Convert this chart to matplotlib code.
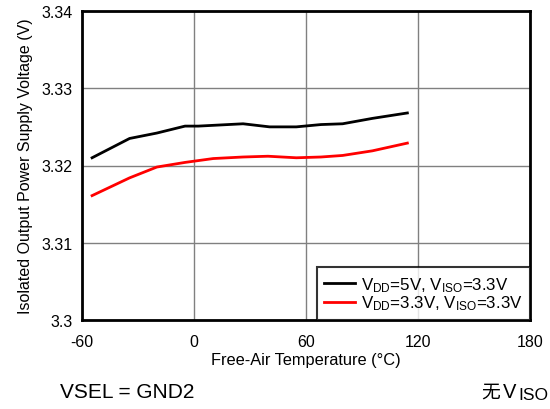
import matplotlib
matplotlib.use("Agg")
import matplotlib.pyplot as plt

plt.rcParams['font.family'] = ['Liberation Sans', 'DejaVu Sans']
plt.rcParams['mathtext.fontset'] = 'custom'
plt.rcParams['mathtext.rm'] = 'Liberation Sans'

# Data
temp_5v = [-54.6, -34.5, -19.9, -4.8, 2.3, 26.3, 40.5, 54.8, 68.0, 79.6, 95.6, 114.3]
volt_5v = [3.3210, 3.3235, 3.3242, 3.3251, 3.3251, 3.3254, 3.3250, 3.3250, 3.3253, 3.3254, 3.3261, 3.3268]
temp_33v = [-54.6, -34.5, -19.9, -4.8, 10.3, 26.3, 39.6, 54.8, 68.0, 79.6, 95.6, 114.3]
volt_33v = [3.3161, 3.3184, 3.3198, 3.3204, 3.3209, 3.3211, 3.3212, 3.3210, 3.3211, 3.3213, 3.3219, 3.3229]

xticks = [-60, 0, 60, 120, 180]
yticks = [3.30, 3.31, 3.32, 3.33, 3.34]
ytick_labels = ['3.3', '3.31', '3.32', '3.33', '3.34']
label_5v = r'$\mathregular{V_{DD}}$=5V, $\mathregular{V_{ISO}}$=3.3V'
label_33v = r'$\mathregular{V_{DD}}$=3.3V, $\mathregular{V_{ISO}}$=3.3V'

fig = plt.figure(figsize=(5.5, 4.1), dpi=100)
ax = fig.add_axes([82/550, 1-321/410, (530-82)/550, (321-12)/410])

ax.plot(temp_5v, volt_5v, color='black', lw=2, label=label_5v)
ax.plot(temp_33v, volt_33v, color='red', lw=2, label=label_33v)

ax.set_xlim(-60, 180)
ax.set_ylim(3.30, 3.34)
ax.set_xticks(xticks)
ax.set_xticklabels([str(t) for t in xticks])
ax.set_yticks(yticks)
ax.set_yticklabels(ytick_labels)
ax.tick_params(length=0, labelsize=11.5)
ax.tick_params(axis='x', pad=10)
ax.tick_params(axis='y', pad=7)
ax.grid(True, color='#808080', lw=1)
ax.set_axisbelow(True)
for s in ax.spines.values():
    s.set_linewidth(2)
    s.set_color('black')

ax.set_xlabel('Free-Air Temperature (°C)', fontsize=11.8, labelpad=2)
ax.set_ylabel('Isolated Output Power Supply Voltage (V)', fontsize=11.5, labelpad=6)

leg = ax.legend(loc='lower right', fontsize=12.2, frameon=True, fancybox=False,
                borderaxespad=0, handlelength=1.8, labelspacing=0.0,
                borderpad=0.45, handletextpad=0.35)
leg.get_frame().set_edgecolor('black')
leg.get_frame().set_linewidth(1.5)

fig.text(60/550, 1-398/410, 'VSEL = GND2', fontsize=15, ha='left', va='baseline')
fig.text(481/550, 1-398/410, '无', fontsize=13.5, ha='left', va='baseline',
         family=['Noto Sans CJK SC', 'DejaVu Sans'])
fig.text(503/550, 1-398/410, 'V', fontsize=14.5, ha='left', va='baseline')
fig.text(518/550, 1-400.5/410, 'ISO', fontsize=12.5, ha='left', va='baseline')

fig.savefig('out.png', dpi=100)
